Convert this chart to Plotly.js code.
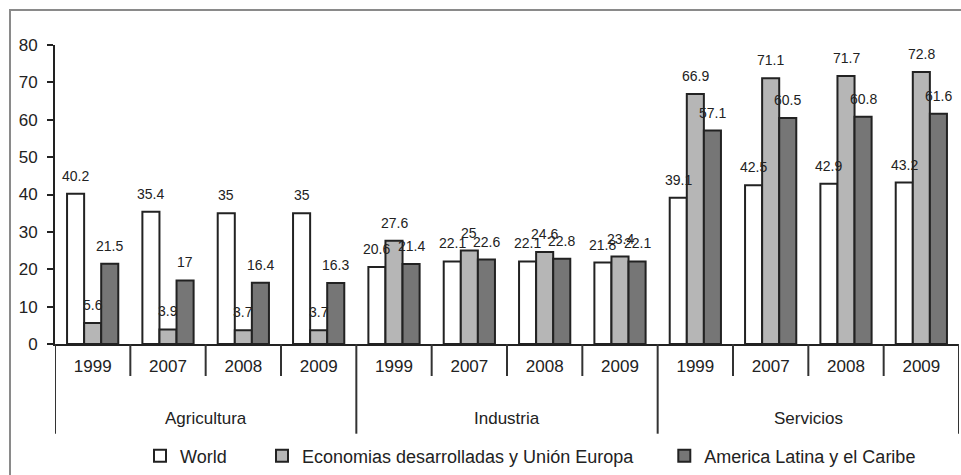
<!DOCTYPE html>
<html><head><meta charset="utf-8">
<script src="https://cdn.plot.ly/plotly-3.0.1.min.js"></script>
<style>
html,body{margin:0;padding:0;background:#fff;}
#chart{position:absolute;left:0;top:0;width:961px;height:475px;}
#frame{position:absolute;left:9px;top:9px;width:960px;height:470px;border-left:2px solid #8a8a8a;border-top:2px solid #8a8a8a;pointer-events:none;}
</style></head><body>
<div id="chart"></div><div id="frame"></div>
<script>
const sectors = ['Agricultura', 'Industria', 'Servicios'];
const years = ['1999', '2007', '2008', '2009'];
const seriesNames = ['World', 'Economias desarrolladas y Unión Europa', 'America Latina y el Caribe'];
const world = [40.2, 35.4, 35, 35, 20.6, 22.1, 22.1, 21.8, 39.1, 42.5, 42.9, 43.2];
const econ = [5.6, 3.9, 3.7, 3.7, 27.6, 25, 24.6, 23.4, 66.9, 71.1, 71.7, 72.8];
const latam = [21.5, 17, 16.4, 16.3, 21.4, 22.6, 22.8, 22.1, 57.1, 60.5, 60.8, 61.6];
const colors = ['#ffffff', '#b6b6b6', '#767676'];

// unique category keys, displayed as years
const xKeys = [], xYear = [];
sectors.forEach(s => years.forEach(y => { xKeys.push(s + ' ' + y); xYear.push(y); }));

const W = 961, H = 475;
const M = {l: 55, r: 2, t: 45, b: 130};
const BARGAP = 0.32;
const legendNames = ['legend', 'legend2', 'legend3'];

const values = [world, econ, latam];
const traces = values.map((v, i) => ({
  type: 'bar',
  name: seriesNames[i],
  legend: legendNames[i],
  x: xKeys,
  y: v,
  marker: {color: colors[i], line: {color: '#222', width: 2}}
}));

// decorations: year ticks, sector dividers, sector labels, value labels
const nY = years.length;
const shapes = [];
const annotations = [];
for (let b = 0; b <= xKeys.length; b++) {
  const isDivider = (b % nY === 0);
  shapes.push({type: 'line', xref: 'x', yref: 'paper', x0: b - 0.5, x1: b - 0.5,
               y0: 0, y1: isDivider ? -0.30 : -0.107,
               line: {color: '#333', width: 2}});
}
sectors.forEach((s, k) => {
  annotations.push({xref: 'x', yref: 'paper', x: k * nY + (nY - 1) / 2, y: -0.25,
                    yanchor: 'middle', text: s, showarrow: false,
                    font: {size: 17, color: '#222'}});
});
const barPx = (W - M.l - M.r) / xKeys.length * (1 - BARGAP) / values.length;
values.forEach((v, i) => v.forEach((val, j) => {
  annotations.push({xref: 'x', yref: 'y', x: xKeys[j], y: val,
                    xshift: (i - (values.length - 1) / 2) * barPx, yshift: 8,
                    yanchor: 'bottom', text: String(val), showarrow: false,
                    font: {size: 14, color: '#222'}});
}));

const legendBase = {orientation: 'h', xanchor: 'left', y: -0.37, yanchor: 'middle',
                    font: {size: 18}, bgcolor: 'rgba(0,0,0,0)'};
const layout = {
  width: W, height: H,
  margin: M,
  paper_bgcolor: '#fff', plot_bgcolor: '#fff',
  font: {family: 'Liberation Sans, Arial, sans-serif', size: 16, color: '#222'},
  barmode: 'group', bargap: BARGAP, bargroupgap: 0,
  showlegend: true,
  legend: Object.assign({}, legendBase, {x: 0.094}),
  legend2: Object.assign({}, legendBase, {x: 0.229}),
  legend3: Object.assign({}, legendBase, {x: 0.674}),
  xaxis: {type: 'category', tickmode: 'array', tickvals: xKeys, ticktext: xYear,
          range: [-0.5, xKeys.length - 0.5],
          showline: true, linecolor: '#222', linewidth: 2, ticks: '',
          ticklabelstandoff: 6,
          tickfont: {size: 17}, showgrid: false, zeroline: false},
  yaxis: {range: [0, 80], dtick: 10, showline: true, linecolor: '#222', linewidth: 2,
          ticks: 'outside', ticklen: 6, tickwidth: 2, tickcolor: '#222',
          ticklabelstandoff: 6,
          showgrid: false, zeroline: false, tickfont: {size: 17}},
  shapes: shapes,
  annotations: annotations
};
Plotly.newPlot('chart', traces, layout, {displayModeBar: false, staticPlot: true});
</script>
</body></html>
